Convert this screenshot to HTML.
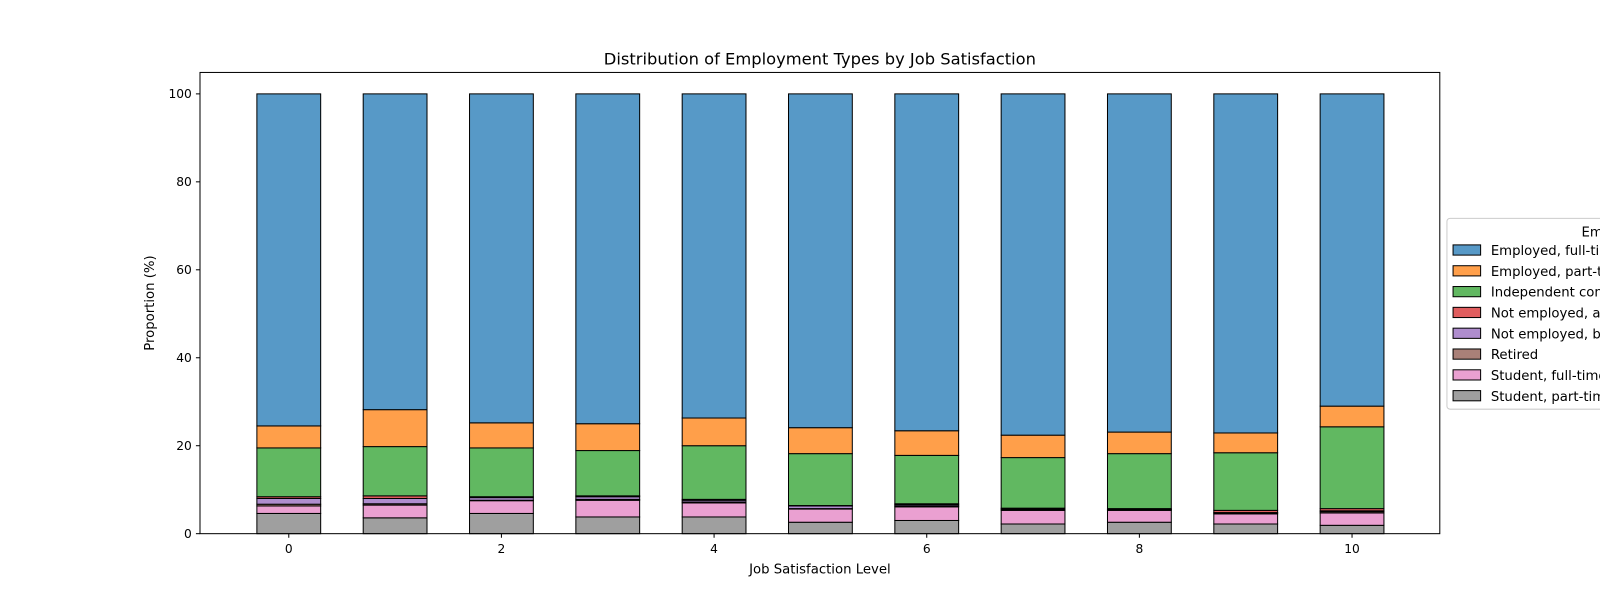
<!DOCTYPE html>
<html><head><meta charset="utf-8"><style>
html,body{margin:0;padding:0;background:#fff;width:1600px;height:600px;overflow:hidden}
svg{display:block}
svg text{font-family:"DejaVu Sans","Liberation Sans",sans-serif;fill:#000}
</style></head><body>
<svg id="c" width="1600" height="600" viewBox="0 0 1568 588" preserveAspectRatio="none" overflow="hidden" xmlns="http://www.w3.org/2000/svg"></svg>
<script>
const categories=[0,1,2,3,4,5,6,7,8,9,10];
const studentPart=[4.6,3.6,4.6,3.8,3.8,2.6,3.0,2.2,2.6,2.2,1.9];
const studentFull=[1.7,2.9,2.9,3.8,3.2,3.0,3.1,3.1,2.7,2.3,2.8];
const retired=[0.4,0.3,0.1,0.2,0.2,0.1,0.2,0.2,0.1,0.2,0.3];
const notEmpLooking=[1.3,1.2,0.6,0.6,0.4,0.6,0.3,0.2,0.1,0.1,0.2];
const notEmpNotLooking=[0.4,0.6,0.2,0.2,0.2,0.1,0.2,0.1,0.2,0.5,0.5];
const independent=[11.1,11.2,11.1,10.3,12.2,11.8,11.0,11.5,12.5,13.1,18.6];
const empPart=[5.0,8.4,5.7,6.1,6.3,5.9,5.6,5.1,4.9,4.5,4.7];
const empFull=[75.5,71.8,74.8,75.0,73.7,75.9,76.6,77.6,76.9,77.1,71.0];
const xTicks=[0,2,4,6,8,10];
const yTicks=[0,20,40,60,80,100];
const series=[studentPart,studentFull,retired,notEmpLooking,notEmpNotLooking,independent,empPart,empFull];
const colors=["#9f9f9f","#eaa0d1","#a98078","#af8dce","#e05d5e","#61b861","#ff9f4a","#5799c7"];
const legendOrder=[7,6,5,4,3,2,1,0];
const legendLabels=["Employed, full-time","Employed, part-time","Independent contractor, freelancer, or self-employed","Not employed, and not looking for work","Not employed, but looking for work","Retired","Student, full-time","Student, part-time"];
const svg=document.getElementById('c');
const NS="http://www.w3.org/2000/svg";
const L=196,R=1411,T=71,B=523;
const X=v=>283+v*(1325-283)/10;
const Y=v=>523-v*(523-92)/100;
const bw=0.6*(1325-283)/10;
function mk(t,a,p){const e=document.createElementNS(NS,t);for(const k in a)e.setAttribute(k,a[k]);(p||svg).appendChild(e);return e;}
const bars=mk('g',{});


categories.forEach((c,i)=>{let acc=0;series.forEach((s,j)=>{const v=s[i];const r=mk('rect',{x:X(c)-bw/2,y:Y(acc+v),width:bw,height:Y(acc)-Y(acc+v),fill:colors[j],stroke:'#000','stroke-width':1},bars);


acc+=v;});});
const ax=mk('rect',{x:L,y:T,width:R-L,height:B-T,fill:'none',stroke:'#000','stroke-width':1});


xTicks.forEach(t=>{mk('line',{x1:X(t),x2:X(t),y1:B,y2:B+4,stroke:'#000'});const tx=mk('text',{x:X(t),y:B+19,'font-size':12,'text-anchor':'middle'});tx.textContent=t;

});
yTicks.forEach(t=>{mk('line',{x1:L-4,x2:L,y1:Y(t),y2:Y(t),stroke:'#000'});const tx=mk('text',{x:L-8,y:Y(t)+4,'font-size':12,'text-anchor':'end'});tx.textContent=t;

});
let t=mk('text',{x:(L+R)/2,y:63,'font-size':16,'text-anchor':'middle'});t.textContent="Distribution of Employment Types by Job Satisfaction";


t=mk('text',{x:(L+R)/2,y:562,'font-size':13,'text-anchor':'middle'});t.textContent="Job Satisfaction Level";


t=mk('text',{x:0,y:0,'font-size':13,'text-anchor':'middle',transform:'translate(151,297) rotate(-90)'});t.textContent="Proportion (%)";


const lg=mk('g',{});


mk('rect',{x:1418,y:214,width:400,height:187,rx:3,fill:'#fff',stroke:'#ccc','fill-opacity':0.8},lg);
t=mk('text',{x:1608,y:232,'font-size':13,'text-anchor':'middle'},lg);t.textContent="Employment Type";


legendOrder.forEach((j,k)=>{const y=245+k*20.4;
const g=mk('g',{},lg);


mk('rect',{x:1424,y:y-5,width:27,height:10,fill:colors[j],stroke:'#000'},g);
const tx=mk('text',{x:1461,y:y+5,'font-size':13},g);tx.textContent=legendLabels[k];});
</script>
</body></html>
